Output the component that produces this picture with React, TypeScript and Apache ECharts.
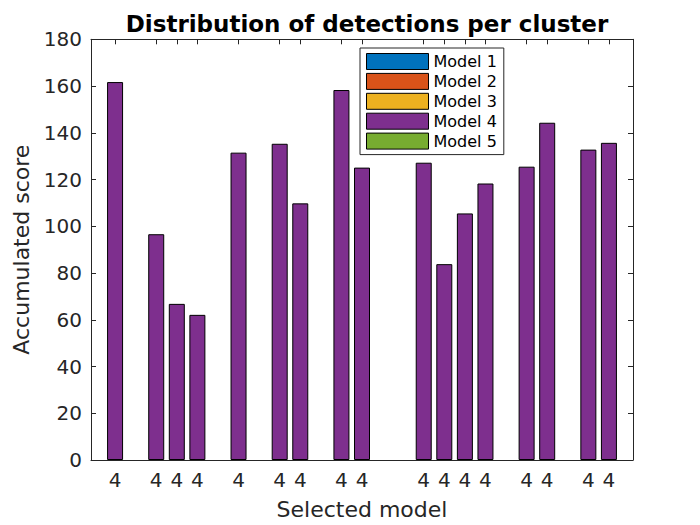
import React, { useEffect, useRef } from "react";
import * as echarts from "echarts";

const clusterSlots = [1, 3, 4, 5, 7, 9, 10, 12, 13, 16, 17, 18, 19, 21, 22, 24, 25];
const selectedModelLabels = ["4", "4", "4", "4", "4", "4", "4", "4", "4", "4", "4", "4", "4", "4", "4", "4", "4"];
const model4Scores = [161.7, 96.6, 66.8, 62.1, 131.5, 135.3, 109.8, 158.3, 125.1, 127.2, 83.8, 105.5, 118.3, 125.5, 144.3, 132.8, 135.7];
const model1Scores: number[] = [];
const model2Scores: number[] = [];
const model3Scores: number[] = [];
const model5Scores: number[] = [];
const seriesNames = ["Model 1", "Model 2", "Model 3", "Model 4", "Model 5"];
const seriesColors = ["#0072BD", "#D95319", "#EDB120", "#7E2F8E", "#77AC30"];
const yTicks = [0, 20, 40, 60, 80, 100, 120, 140, 160, 180];

const FONT = "DejaVu Sans";
const AX = "#262626";

export default function App() {
  const ref = useRef<HTMLDivElement>(null);
  useEffect(() => {
    if (!ref.current) return;
    const chart = echarts.init(ref.current, undefined, { renderer: "svg" });
    const allSeries = [model1Scores, model2Scores, model3Scores, model4Scores, model5Scores];
    const labelFor = (v: number) => {
      const i = clusterSlots.indexOf(Math.round(v));
      return i >= 0 ? selectedModelLabels[i] : "";
    };
    const xCommon = {
      type: "value" as const,
      min: -0.17,
      max: 26.17,
      splitLine: { show: false },
      axisLine: { show: true, onZero: false, lineStyle: { color: AX, width: 1 } },
      axisTick: { show: true, inside: true, length: 5, customValues: clusterSlots, lineStyle: { color: AX } },
    };
    const yCommon = {
      type: "value" as const,
      min: 0,
      max: 180,
      interval: 20,
      splitLine: { show: false },
      axisLine: { show: true, onZero: false, lineStyle: { color: AX, width: 1 } },
      axisTick: { show: true, inside: true, length: 5, lineStyle: { color: AX } },
    };
    chart.setOption({
      animation: false,
      backgroundColor: "#fff",
      title: {
        text: "Distribution of detections per cluster",
        left: 362,
        top: 7,
        textAlign: "center",
        textStyle: { fontFamily: FONT, fontSize: 23, fontWeight: "bold", color: "#000" },
      },
      legend: {
        orient: "vertical",
        left: 360,
        top: 48,
        padding: [5, 7, 5, 6],
        itemWidth: 62,
        itemHeight: 16,
        itemGap: 2.9,
        icon: "rect",
        borderColor: AX,
        borderWidth: 1,
        backgroundColor: "#fff",
        data: seriesNames,
        itemStyle: { borderWidth: 1, borderColor: "#000" },
        textStyle: { fontFamily: FONT, fontSize: 16, color: "#000" },
      },
      grid: { left: 91, right: 67, top: 39.3, bottom: 62.7, containLabel: false },
      xAxis: [
        {
          ...xCommon,
          position: "bottom",
          name: "Selected model",
          nameLocation: "middle",
          nameGap: 38,
          nameTextStyle: { fontFamily: FONT, fontSize: 22, color: AX },
          axisLabel: {
            customValues: clusterSlots,
            formatter: (v: number) => labelFor(v),
            fontFamily: FONT,
            fontSize: 20,
            color: AX,
            margin: 10,
          },
        },
        {
          ...xCommon,
          position: "top",
          axisLabel: { show: false },
        },
      ],
      yAxis: [
        {
          ...yCommon,
          position: "left",
          name: "Accumulated score",
          nameLocation: "middle",
          nameGap: 54,
          nameTextStyle: { fontFamily: FONT, fontSize: 22, color: AX },
          axisLabel: {
            customValues: yTicks,
            fontFamily: FONT,
            fontSize: 20,
            color: AX,
            margin: 9,
          },
        },
        {
          ...yCommon,
          position: "right",
          axisLabel: { show: false },
        },
      ],
      series: seriesNames.map((name, si) => ({
        name,
        type: "bar",
        stack: "total",
        xAxisIndex: 0,
        yAxisIndex: 0,
        barWidth: 16,
        itemStyle: { color: seriesColors[si], borderColor: "#000", borderWidth: 1 },
        data: allSeries[si].map((v, i) => [clusterSlots[i], v]),
      })),
    });
    return () => chart.dispose();
  }, []);
  return (
    <div
      ref={ref}
      style={{ position: "fixed", left: 0, top: 0, width: 700, height: 525, background: "#fff" }}
    />
  );
}
